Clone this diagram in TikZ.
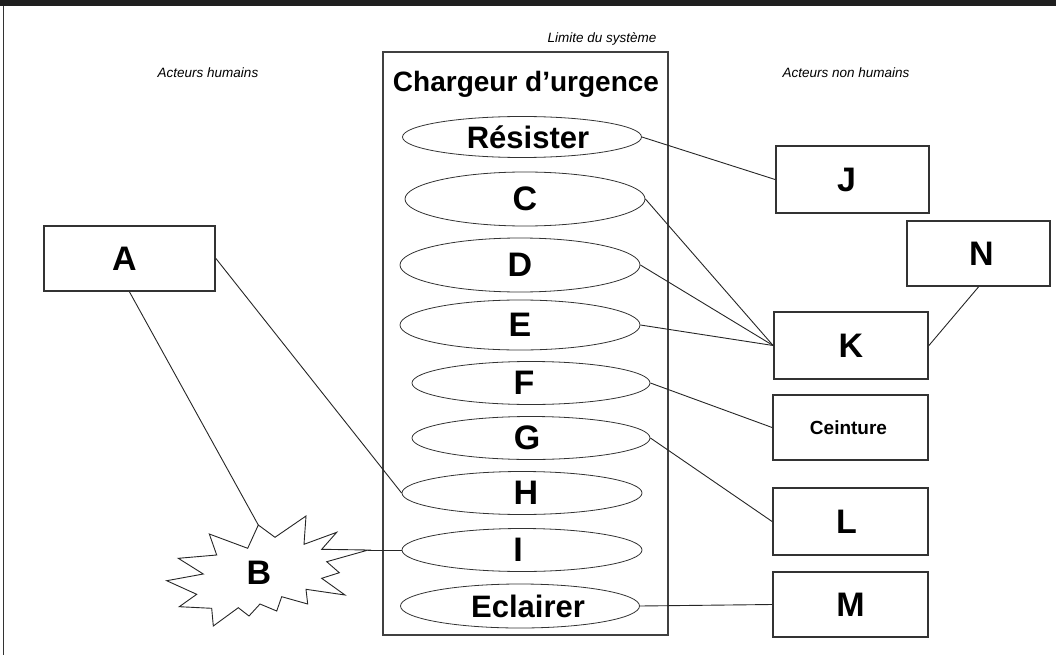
\documentclass[tikz,border=0pt]{standalone}
\usepackage{fontspec}
\setmainfont{Liberation Sans}
\usetikzlibrary{shapes.geometric}

\begin{document}
\begin{tikzpicture}[x=1pt,y=-1pt,
  uc/.style={ellipse, draw=black!80, line width=0.8pt, inner sep=0pt,
    font=\bfseries\fontsize{34}{34}\selectfont},
  ucword/.style={uc, font=\bfseries\fontsize{31}{31}\selectfont},
  actor/.style={rectangle, draw=black!80, line width=1.8pt, inner sep=0pt,
    minimum width=154pt, minimum height=66pt,
    font=\bfseries\fontsize{34}{34}\selectfont},
  % moves the text of a node sideways by #1 without moving its outline
  txshift/.style={execute at begin node={\hspace*{\dimexpr 2pt*#1\relax}}},
  link/.style={draw=black!85, line width=0.9pt},
  note/.style={font=\itshape\fontsize{13.5}{13.5}\selectfont, inner sep=0pt}]
\useasboundingbox (0,0) rectangle (1056,655);

% window frame
\fill[black!88] (0,0) rectangle (1056,6.5);
\draw[black!80, line width=1.6pt] (3.5,6) -- (3.5,655);

% captions
\node[note] (limit) at (602,39) {Limite du système};
\node[note] (hum) at (208,73) {Acteurs humains};
\node[note] (nonhum) at (846,73) {Acteurs non humains};

% system boundary
\draw[black!75, line width=1.3pt] (383,52) rectangle (668,635);
\node[font=\bfseries\fontsize{28}{28}\selectfont, inner sep=0pt] (title) at (526,84) {Chargeur d’urgence};

% use cases
\node[ucword, txshift=6, minimum width=239pt, minimum height=41pt] (res) at (522,137) {Résister};
\node[uc, minimum width=240pt, minimum height=54pt] (c) at (525,199) {C};
\node[uc, minimum width=240pt, minimum height=54pt] (d) at (520,265) {D};
\node[uc, minimum width=240pt, minimum height=50pt] (e) at (520,325) {E};
\node[uc, txshift=-7, minimum width=238pt, minimum height=43pt] (f) at (531,383) {F};
\node[uc, txshift=-4, minimum width=238pt, minimum height=43pt] (g) at (531,438) {G};
\node[uc, txshift=4, minimum width=240pt, minimum height=43pt] (h) at (522,493) {H};
\node[uc, txshift=-4, minimum width=240pt, minimum height=43pt] (i) at (522,550) {I};
\node[ucword, txshift=8, minimum width=239pt, minimum height=44pt] (ecl) at (520,606) {Eclairer};

% actors
\node[actor, txshift=-5, minimum width=171pt, minimum height=65pt] (a) at (129.5,258.5) {A};
\node[actor, txshift=-6, minimum width=153pt, minimum height=67pt] (j) at (852.5,179.5) {J};
\node[actor, txshift=3, minimum width=143pt, minimum height=65pt] (n) at (978.5,253.5) {N};
\node[actor, minimum width=154pt, minimum height=67pt] (k) at (851,345.5) {K};
\node[actor, txshift=-2, minimum width=155pt, minimum height=65pt,
  font=\bfseries\fontsize{19}{19}\selectfont] (ceinture) at (850.5,427.5) {Ceinture};
\node[actor, txshift=-4, minimum width=155pt, minimum height=67pt] (l) at (850.5,521.5) {L};
\node[actor, minimum width=155pt, minimum height=65pt] (m) at (850.5,604.5) {M};

% starburst actor B
\coordinate (btop) at (258.3,525);
\coordinate (bright) at (368.3,550);
\draw[black!85, line width=0.9pt, fill=white]
  (btop) -- (275,537.3) -- (306,516) -- (304,544.3) -- (336.7,532.3)
  -- (321.7,549.3) -- (bright) -- (326.7,561.7) -- (339.3,572.7)
  -- (321.7,578.3) -- (345,595) -- (306,589.3) -- (307.7,604)
  -- (281.7,596.7) -- (276.7,611) -- (260,604) -- (249,616)
  -- (238.3,607.7) -- (213.3,626) -- (211.7,608.3) -- (179.3,606.7)
  -- (196.7,594.3) -- (166.7,580.7) -- (203.3,574) -- (178.3,558.3)
  -- (216.7,555) -- (209.3,534) -- (247.7,548.3) -- cycle;
\node[font=\bfseries\fontsize{34}{34}\selectfont, inner sep=0pt] (b) at (259,573) {B};

% associations
\draw[link] (res.east) -- (j.west);
\draw[link] (c.east) -- (k.west);
\draw[link] (d.east) -- (k.west);
\draw[link] (e.east) -- (k.west);
\draw[link] (n.south) -- (k.east);
\draw[link] (f.east) -- (ceinture.west);
\draw[link] (g.east) -- (l.west);
\draw[link] (ecl.east) -- (m.west);
\draw[link] (a.east) -- (h.west);
\draw[link] (a.south) -- (btop);
\draw[link] (bright) -- (i.west);
\end{tikzpicture}
\end{document}
